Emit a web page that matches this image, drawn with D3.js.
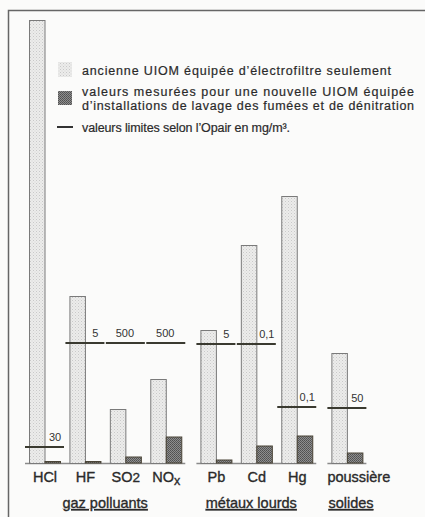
<!DOCTYPE html>
<html><head><meta charset="utf-8">
<script src="https://cdn.jsdelivr.net/npm/d3@7"></script>
<style>
html,body{margin:0;padding:0;background:#fbfbfa;}
svg{display:block;font-family:"Liberation Sans",Arial,sans-serif;}
.heavy{stroke:#2a2a2a;stroke-width:0.35px;}
</style></head>
<body><svg id="c" width="425" height="517"></svg>
<script>
// ---- data ----
const categories = ["HCl","HF","SO2","NOx","Pb","Cd","Hg","poussière"];
const groups = ["gaz","gaz","gaz","gaz","métaux","métaux","métaux","solides"];
const groupLabels = {gaz:"gaz polluants", "métaux":"métaux lourds", solides:"solides"};
// relative (schematic) heights, arbitrary units
const oldValues = [443,167,54,84,133,218,267,110];
const newValues = [1.5,1.5,6,26,3,17,27,10];
const limitValues = [16,120,120,120,119,119,56,55];
const limitLabels = ["30","5","500","500","5","0,1","0,1","50"];
const legendTexts = [
  "ancienne UIOM équipée d’électrofiltre seulement",
  "valeurs mesurées pour une nouvelle UIOM équipée",
  "d’installations de lavage des fumées et de dénitration",
  "valeurs limites selon l’Opair en mg/m³."
];

const svg = d3.select("#c");
const defs = svg.append("defs");
const pl = defs.append("pattern").attr("id","light").attr("patternUnits","userSpaceOnUse").attr("width",3).attr("height",3);
pl.append("rect").attr("width",3).attr("height",3).attr("fill","#ececeb");
pl.append("rect").attr("x",0).attr("y",0).attr("width",1).attr("height",1).attr("fill","#c9c9c9");
pl.append("rect").attr("x",1.5).attr("y",1.5).attr("width",1).attr("height",1).attr("fill","#d4d4d4");
const pd = defs.append("pattern").attr("id","dark").attr("patternUnits","userSpaceOnUse").attr("width",2).attr("height",2);
pd.append("rect").attr("width",2).attr("height",2).attr("fill","#8e8e8e");
pd.append("rect").attr("x",0).attr("y",0).attr("width",1).attr("height",1).attr("fill","#505050");
pd.append("rect").attr("x",1).attr("y",1).attr("width",1).attr("height",1).attr("fill","#5a5a5a");

// frame
svg.append("path").attr("d","M8.5,517 V10.5 H425").attr("fill","none").attr("stroke","#666").attr("stroke-width",1.5);

// slots: extra gap between groups
const slots = [];
let s = 0;
categories.forEach((c,i)=>{ if(i>0 && groups[i]!==groups[i-1]) s += 0.24; slots.push(s); s += 1; });
const x = d3.scaleLinear().domain([0,7.52]).range([29,333]);
const y = d3.scaleLinear().domain([0,450]).range([463,13]);
const bw = 15.5;

// baselines per group
const gnames = [...new Set(groups)];
gnames.forEach(g=>{
  const idx = categories.map((c,i)=>i).filter(i=>groups[i]===g);
  const x0 = x(slots[idx[0]]) - 4, x1 = x(slots[idx[idx.length-1]]) + 35;
  svg.append("line").attr("x1",x0).attr("x2",x1).attr("y1",y(0)+0.5).attr("y2",y(0)+0.5)
    .attr("stroke","#8a8a8a").attr("stroke-width",1.5);
  const cx = g==="solides" ? x0+1 : (g==="gaz" ? (x0+x1)/2 : (x0+x1)/2-5);
  svg.append("text").attr("class","heavy").attr("x",cx).attr("y",508)
    .attr("text-anchor", g==="solides" ? "start":"middle")
    .attr("font-size",14.5).attr("fill","#2a2a2a")
    .attr("text-decoration","underline").text(groupLabels[g]);
});

// bars
categories.forEach((c,i)=>{
  const bx = x(slots[i]);
  svg.append("rect").attr("x",bx+0.5).attr("y",y(oldValues[i])+0.5).attr("width",bw).attr("height",y(0)-y(oldValues[i]))
    .attr("fill","url(#light)").attr("stroke","#7a7a7a").attr("stroke-width",1);
  svg.append("rect").attr("x",bx+bw+0.5).attr("y",y(newValues[i])).attr("width",bw).attr("height",y(0)-y(newValues[i]))
    .attr("fill","url(#dark)").attr("stroke","#4a4436").attr("stroke-width",1);
  // limit line
  const ly = y(limitValues[i]);
  svg.append("line").attr("x1",bx-4).attr("x2",bx+35).attr("y1",ly).attr("y2",ly)
    .attr("stroke","#3a3a30").attr("stroke-width",2);
  const lab = limitLabels[i];
  svg.append("text").attr("x", lab.length===3 && lab!=="0,1" ? bx+15 : bx+26).attr("y",ly-6)
    .attr("text-anchor","middle").attr("font-size",11).attr("fill","#333").text(lab);
  // category label
  const t = svg.append("text").attr("class","heavy").attr("y",482).attr("font-size",14.5).attr("fill","#2a2a2a");
  if (c.length > 4) { t.attr("x",bx-4).attr("text-anchor","start").text(c); }
  else {
    t.attr("x",bx+16).attr("text-anchor","middle");
    if (c==="SO2") { t.append("tspan").text("SO"); t.append("tspan").attr("font-size",13.5).text("2"); }
    else if (c==="NOx") { t.append("tspan").text("NO"); t.append("tspan").attr("dy",3).attr("font-size",12.5).text("x"); }
    else t.text(c);
  }
});

// legend
const lg = svg.append("g");
lg.append("rect").attr("x",58).attr("y",62).attr("width",14).attr("height",15).attr("fill","url(#light)");
lg.append("rect").attr("x",58).attr("y",91).attr("width",14).attr("height",14).attr("fill","url(#dark)");
lg.append("line").attr("x1",57).attr("x2",73).attr("y1",127).attr("y2",127).attr("stroke","#333").attr("stroke-width",2);
const ly = [74.5,96,110,131.5];
const lw = [309,332,332,208];
legendTexts.forEach((tx,i)=>{
  lg.append("text").attr("x",82).attr("y",ly[i]).attr("font-size",12.5).attr("fill","#2a2a2a")
    .attr("stroke","#2a2a2a").attr("stroke-width",0.2)
    .attr("textLength",lw[i]).attr("lengthAdjust","spacing").text(tx);
});
</script></body></html>
